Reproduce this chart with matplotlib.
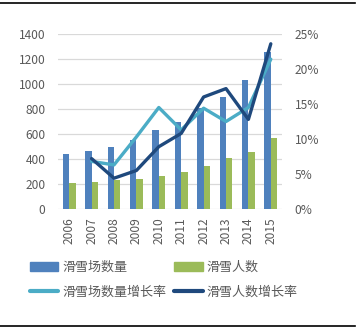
import matplotlib
matplotlib.use("Agg")
import matplotlib.pyplot as plt
from matplotlib.lines import Line2D
from matplotlib.ticker import FuncFormatter, MultipleLocator
import numpy as np

plt.rcParams['font.family'] = ['Noto Sans CJK SC', 'DejaVu Sans']

years = ['2006', '2007', '2008', '2009', '2010', '2011', '2012', '2013', '2014', '2015']
resorts = [437, 468, 500, 550, 630, 700, 808, 898, 1032, 1256]
skiers = [206, 218, 233, 244, 264, 296, 344, 408, 456, 568]
resort_growth = [0.068, 0.063, 0.103, 0.145, 0.113, 0.144, 0.125, 0.145, 0.214]
skier_growth = [0.072, 0.044, 0.055, 0.089, 0.108, 0.160, 0.172, 0.128, 0.236]

C_BLUE = '#4F81BD'
C_GREEN = '#9BBB59'
C_LIGHT = '#4BACC6'
C_DARK = '#1F497D'
C_TEXT = '#595959'
C_GRID = '#D9D9D9'

W, H = 363, 329
fig = plt.figure(figsize=(W / 100, H / 100), dpi=100)
ax = fig.add_axes([58 / W, 120 / H, 224 / W, 175 / H])
ax2 = ax.twinx()

x = np.arange(len(years))
bw = 0.29
b1 = ax.bar(x - bw / 2, resorts, bw, color=C_BLUE, zorder=2)
b2 = ax.bar(x + bw / 2, skiers, bw, color=C_GREEN, zorder=2)

ax.set_xlim(-0.5, len(years) - 0.5)
ax.set_ylim(0, 1400)
ax.yaxis.set_major_locator(MultipleLocator(200))
ax.grid(axis='y', color=C_GRID, lw=0.9, zorder=0)
ax.set_axisbelow(True)
for s in ax.spines.values():
    s.set_visible(False)
for s in ax2.spines.values():
    s.set_visible(False)

ax.set_xticks(x)
ax.set_xticklabels(years, rotation=90)
ax.tick_params(axis='x', length=0, pad=6, labelsize=8.6, labelcolor=C_TEXT)
ax.tick_params(axis='y', length=0, pad=9, labelsize=8.6, labelcolor=C_TEXT)

lx = x[1:]
l1, = ax2.plot(lx, resort_growth, color=C_LIGHT, lw=2.4, solid_capstyle='round', solid_joinstyle='round', zorder=3)
l2, = ax2.plot(lx, skier_growth, color=C_DARK, lw=2.4, solid_capstyle='round', solid_joinstyle='round', zorder=4)
ax2.set_ylim(0, 0.25)
ax2.yaxis.set_major_locator(MultipleLocator(0.05))
ax2.yaxis.set_major_formatter(FuncFormatter(lambda v, p: f'{v * 100:.0f}%'))
ax2.tick_params(axis='y', length=0, pad=9, labelsize=8.6, labelcolor=C_TEXT)

h_b1 = plt.Rectangle((0, 0), 1, 1, color=C_BLUE)
h_b2 = plt.Rectangle((0, 0), 1, 1, color=C_GREEN)
h_l1 = Line2D([], [], color=C_LIGHT, lw=3, solid_capstyle='round')
h_l2 = Line2D([], [], color=C_DARK, lw=3, solid_capstyle='round')
leg = fig.legend([h_b1, h_l1, h_b2, h_l2],
                 ['滑雪场数量', '滑雪场数量增长率', '滑雪人数', '滑雪人数增长率'],
                 ncol=2, loc='upper left', bbox_to_anchor=(30 / W, 1 - 261 / H),
                 frameon=False, fontsize=9.4, handlelength=2.15, handleheight=0.6,
                 handletextpad=0.3, columnspacing=0.65, labelspacing=0.88,
                 borderpad=0, borderaxespad=0)
for t in leg.get_texts():
    t.set_color(C_TEXT)

fig.add_artist(Line2D([0, 355 / W], [1 - 2.5 / H, 1 - 2.5 / H], transform=fig.transFigure, color='black', lw=1.2))
fig.add_artist(Line2D([0, 355 / W], [1 - 325.5 / H, 1 - 325.5 / H], transform=fig.transFigure, color='black', lw=1.2))

fig.savefig('out.png', dpi=100)
